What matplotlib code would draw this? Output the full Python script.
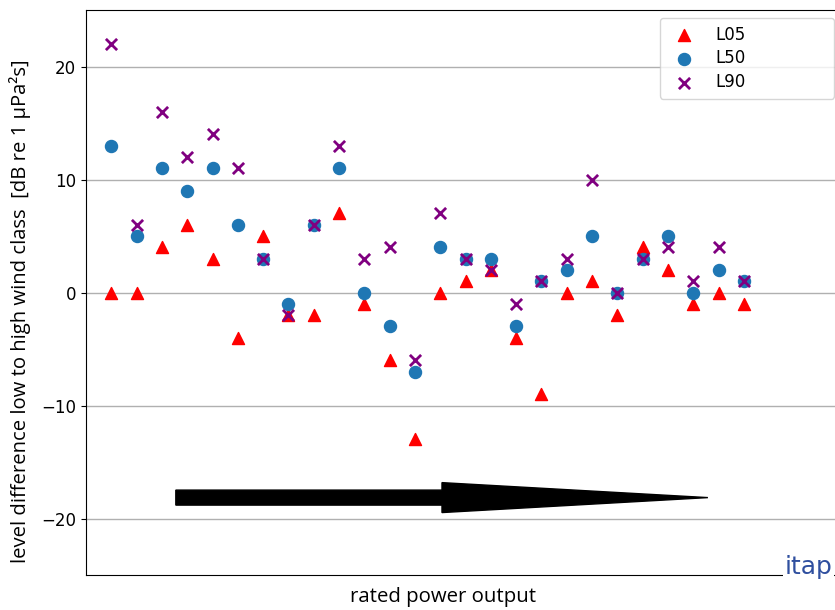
import matplotlib
matplotlib.use("Agg")
import matplotlib.pyplot as plt
import numpy as np

turbine = list(range(1, 27))
L05 = [0, 0, 4, 6, 3, -4, 5, -2, -2, 7, -1, -6, -13, 0, 1, 2, -4, -9, 0, 1, -2, 4, 2, -1, 0, -1]
L50 = [13, 5, 11, 9, 11, 6, 3, -1, 6, 11, 0, -3, -7, 4, 3, 3, -3, 1, 2, 5, 0, 3, 5, 0, 2, 1]
L90 = [22, 6, 16, 12, 14, 11, 3, -2, 6, 13, 3, 4, -6, 7, 3, 2, -1, 1, 3, 10, 0, 3, 4, 1, 4, 1]
yticks = [-20, -10, 0, 10, 20]

plt.rcParams['font.family'] = ['DejaVu Sans']
fig = plt.figure(figsize=(8.35, 6.10), dpi=100)
ax = fig.add_axes([0.103, 0.0574, 0.909, 0.926])

ax.scatter(turbine, L05, marker='^', color='red', s=75, label='L05', zorder=3)
ax.scatter(turbine, L50, marker='o', color='#1f77b4', s=75, label='L50', zorder=3)
ax.scatter(turbine, L90, marker='x', color='purple', s=65, linewidths=2, label='L90', zorder=3)

ax.arrow(3.55, -18.15, 24.58 - 3.55, 0, width=1.33, head_width=2.65,
         head_length=24.58 - 14.07, length_includes_head=True,
         color='black', zorder=2)

ax.set_xlim(0, 30)
ax.set_ylim(-25, 25)
ax.set_yticks(yticks)
ax.set_xticks([])
ax.yaxis.grid(True, color='#b0b0b0', linewidth=1)
ax.set_axisbelow(True)
ax.tick_params(axis='y', labelsize=12)

fig.text(20 / 835, 1 - 311 / 610, 'level difference low to high wind class  [dB re 1 µPa²s]',
         rotation=90, ha='center', va='center', fontsize=14.6, family=['Open Sans', 'DejaVu Sans'])
fig.text(443 / 835, 1 - 597 / 610, 'rated power output',
         ha='center', va='center', fontsize=14.7, family=['Open Sans', 'DejaVu Sans'])

ax.legend(loc='upper left', fontsize=12, handletextpad=0.9, borderpad=0.45, labelspacing=0.35,
          bbox_to_anchor=(660 / 835, 1 - 18 / 610 - 0.01, (834 - 660) / 835, 0.01),
          bbox_transform=fig.transFigure, mode='expand', borderaxespad=0)

fig.text(0.94, 0.07, 'itap', color='#2f4f9f', fontsize=18, ha='left', va='center',
         bbox=dict(facecolor='white', edgecolor='none', pad=1))

fig.savefig('out.png', dpi=100)
